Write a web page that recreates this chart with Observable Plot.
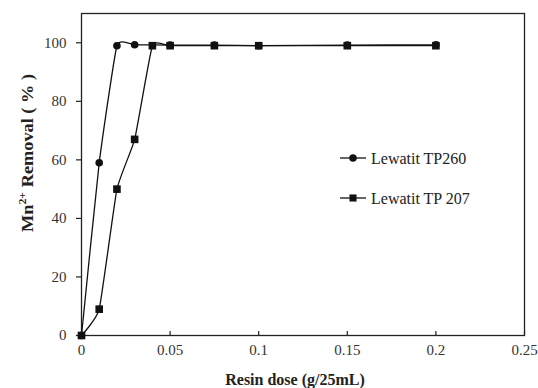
<!DOCTYPE html>
<html>
<head>
<meta charset="utf-8">
<script src="https://cdn.jsdelivr.net/npm/d3@7"></script>
<script src="https://cdn.jsdelivr.net/npm/@observablehq/plot@0.6"></script>
<style>
  html, body { margin: 0; padding: 0; background: #fff; }
  #chart svg { display: block; }
  #chart svg text { font-family: "Liberation Serif", "Times New Roman", serif !important; font-variant: normal !important; }
</style>
</head>
<body>
<div id="chart"></div>
<script>
// ---- data ----
const seriesNames = ["Lewatit TP260", "Lewatit TP 207"];
const doseTP260 = [0, 0.01, 0.02, 0.03, 0.05, 0.075, 0.1, 0.15, 0.2];
const removalTP260 = [0, 59, 99, 99.3, 99.2, 99.2, 99, 99.2, 99.3];
const doseTP207 = [0, 0.01, 0.02, 0.03, 0.04, 0.05, 0.075, 0.1, 0.15, 0.2];
const removalTP207 = [0, 9, 50, 67, 99, 99, 99, 99, 99, 99];
const xTicks = [0, 0.05, 0.1, 0.15, 0.2, 0.25];
const yTicks = [0, 20, 40, 60, 80, 100];

const tp260 = doseTP260.map((d, i) => ({dose: d, removal: removalTP260[i], series: seriesNames[0]}));
const tp207 = doseTP207.map((d, i) => ({dose: d, removal: removalTP207[i], series: seriesNames[1]}));

const font = "Liberation Serif, Times New Roman, serif";
const W = 538, H = 388;
const mL = 81, mR = 14, mT = 13, mB = 53;

const chart = Plot.plot({
  width: W,
  height: H,
  marginLeft: mL,
  marginRight: mR,
  marginTop: mT,
  marginBottom: mB,
  style: {fontFamily: font, fontSize: "15px", color: "#222", background: "#fff"},
  x: {domain: [0, 0.25]},
  y: {domain: [0, 110]},
  marks: [
    Plot.frame({stroke: "#222", strokeWidth: 1.3}),
    Plot.axisY({ticks: yTicks, tickSize: 5, tickPadding: 10, label: null, stroke: "#222", strokeWidth: 1.2, fill: "#333", fontSize: 15, fontFamily: font}),
    Plot.axisX({ticks: xTicks, tickSize: 4, dy: -4, text: null, label: null, stroke: "#222", strokeWidth: 1.2}),
    Plot.axisX({ticks: xTicks, tickSize: 0, tickPadding: 9, label: null, fill: "#333", fontSize: 15, fontFamily: font, tickFormat: d3.format("")}),
    Plot.line(tp260, {x: "dose", y: "removal", curve: "cardinal", tension: 0.6, stroke: "#111", strokeWidth: 1.3}),
    Plot.line(tp207, {x: "dose", y: "removal", curve: "cardinal", tension: 0.6, stroke: "#111", strokeWidth: 1.3}),
    Plot.dot(tp260, {x: "dose", y: "removal", symbol: "circle", r: 3.8, fill: "#111", stroke: "none"}),
    Plot.dot(tp207, {x: "dose", y: "removal", symbol: "square", r: 4.3, fill: "#111", stroke: "none"})
  ]
});

document.getElementById("chart").appendChild(chart);

const svg = d3.select(chart);

// Y-axis title with superscript
const yl = svg.append("text")
  .attr("transform", `translate(27,153) rotate(-90)`)
  .attr("text-anchor", "middle")
  .attr("dy", "0.35em")
  .attr("font-family", font)
  .attr("font-weight", "bold")
  .attr("font-size", 17)
  .attr("fill", "#222")
  .attr("textLength", 158)
  .attr("lengthAdjust", "spacingAndGlyphs");
yl.append("tspan").text("Mn");
yl.append("tspan").attr("font-size", 11).attr("dy", -7).text("2+");
yl.append("tspan").attr("dy", 7).text(" Removal ( % )");

// X-axis title
svg.append("text")
  .attr("x", 295)
  .attr("y", 385)
  .attr("text-anchor", "middle")
  .attr("font-family", font)
  .attr("font-weight", "bold")
  .attr("font-size", 16)
  .attr("fill", "#222")
  .text("Resin dose (g/25mL)");

// Legend
const legend = [
  {name: seriesNames[0], symbol: d3.symbolCircle, size: 45, y: 158},
  {name: seriesNames[1], symbol: d3.symbolSquare, size: 50, y: 198}
];
const lg = svg.append("g");
legend.forEach(l => {
  lg.append("line").attr("x1", 340).attr("x2", 366).attr("y1", l.y).attr("y2", l.y)
    .attr("stroke", "#111").attr("stroke-width", 1.3);
  lg.append("path").attr("d", d3.symbol(l.symbol, l.size)())
    .attr("transform", `translate(353,${l.y})`).attr("fill", "#111");
  lg.append("text").attr("x", 371).attr("y", l.y).attr("dy", "0.35em")
    .attr("text-anchor", "start")
    .attr("font-family", font).attr("font-size", 16).attr("fill", "#222").text(l.name);
});
</script>
</body>
</html>
